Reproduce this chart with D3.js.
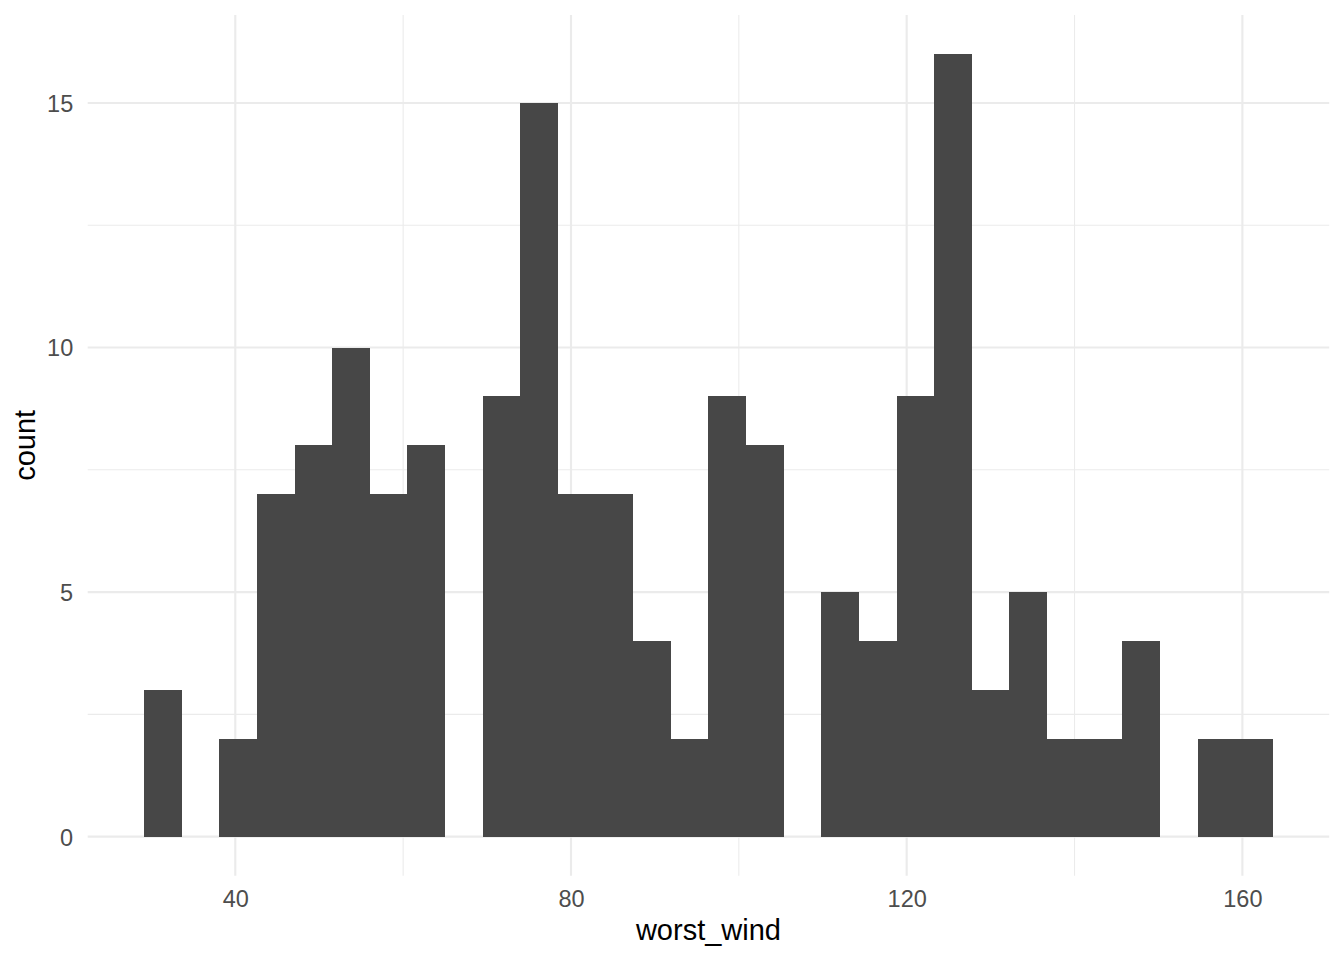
<!DOCTYPE html>
<html>
<head>
<meta charset="utf-8">
<script src="https://cdn.jsdelivr.net/npm/d3@7"></script>
<style>
  html, body { margin: 0; padding: 0; background: #ffffff; }
  svg { display: block; font-family: "Liberation Sans", Arial, Helvetica, sans-serif; }
</style>
</head>
<body>
<svg id="chart" width="1344" height="960"></svg>
<script>
// ---- data ----
const binStart = 29.138;          // left edge of first bin
const binWidth = 130 / 29;        // ggplot default: range / (bins - 1)
const counts = [3, 0, 2, 7, 8, 10, 7, 8, 0, 9, 15, 7, 7, 4, 2, 9, 8, 0, 5, 4, 9, 16, 3, 5, 2, 2, 4, 0, 2, 2];
const xTicks = [40, 80, 120, 160];
const xMinor = [60, 100, 140];
const yTicks = [0, 5, 10, 15];
const yMinor = [2.5, 7.5, 12.5];
const xTitle = "worst_wind";
const yTitle = "count";

// ---- layout ----
const W = 1344, H = 960;
const margin = { left: 87.7, right: 14.8, top: 14.9, bottom: 84.2 };
const svg = d3.select("#chart");

const bins = counts.map((c, i) => ({ x0: binStart + i * binWidth, x1: binStart + (i + 1) * binWidth, n: c }));
const xMin = bins[0].x0, xMax = bins[bins.length - 1].x1;
const xPad = (xMax - xMin) * 0.05;
const yMaxV = d3.max(counts), yPad = yMaxV * 0.05;

const x = d3.scaleLinear().domain([xMin - xPad, xMax + xPad]).range([margin.left, W - margin.right]);
const y = d3.scaleLinear().domain([-yPad, yMaxV + yPad]).range([H - margin.bottom, margin.top]);

const grid = svg.append("g");
// minor grid
grid.selectAll(".xm").data(xMinor).enter().append("line")
  .attr("x1", d => x(d)).attr("x2", d => x(d))
  .attr("y1", y.range()[1]).attr("y2", y.range()[0])
  .attr("stroke", "#EBEBEB").attr("stroke-width", 1.07);
grid.selectAll(".ym").data(yMinor).enter().append("line")
  .attr("y1", d => y(d)).attr("y2", d => y(d))
  .attr("x1", x.range()[0]).attr("x2", x.range()[1])
  .attr("stroke", "#EBEBEB").attr("stroke-width", 1.07);
// major grid
grid.selectAll(".xM").data(xTicks).enter().append("line")
  .attr("x1", d => x(d)).attr("x2", d => x(d))
  .attr("y1", y.range()[1]).attr("y2", y.range()[0])
  .attr("stroke", "#EBEBEB").attr("stroke-width", 2.13);
grid.selectAll(".yM").data(yTicks).enter().append("line")
  .attr("y1", d => y(d)).attr("y2", d => y(d))
  .attr("x1", x.range()[0]).attr("x2", x.range()[1])
  .attr("stroke", "#EBEBEB").attr("stroke-width", 2.13);

// bars
svg.append("g").attr("shape-rendering", "crispEdges")
  .selectAll("rect").data(bins.filter(b => b.n > 0)).enter().append("rect")
  .attr("x", d => x(d.x0))
  .attr("width", d => x(d.x1) - x(d.x0))
  .attr("y", d => y(d.n))
  .attr("height", d => y(0) - y(d.n))
  .attr("fill", "#474747");

// axes (labels only, ggplot theme_minimal has no axis lines/ticks)
const xAxis = d3.axisBottom(x).tickValues(xTicks).tickSize(0).tickPadding(0);
const gx = svg.append("g").attr("transform", `translate(0,${H - margin.bottom})`).call(xAxis);
gx.select(".domain").remove();
gx.selectAll("text").attr("fill", "#4D4D4D").attr("font-size", 23.5)
  .attr("font-family", "Liberation Sans, Arial, sans-serif")
  .attr("dy", null).attr("y", 31);

const yAxis = d3.axisLeft(y).tickValues(yTicks).tickSize(0).tickPadding(0);
const gy = svg.append("g").attr("transform", `translate(${margin.left},0)`).call(yAxis);
gy.select(".domain").remove();
gy.selectAll("text").attr("fill", "#4D4D4D").attr("font-size", 23.5)
  .attr("font-family", "Liberation Sans, Arial, sans-serif")
  .attr("x", -14.5).attr("dy", "0.36em");

// titles
svg.append("text")
  .attr("x", (x.range()[0] + x.range()[1]) / 2)
  .attr("y", 940)
  .attr("text-anchor", "middle")
  .attr("font-size", 29).attr("fill", "#000000")
  .text(xTitle);
svg.append("text")
  .attr("transform", `translate(35,${(y.range()[0] + y.range()[1]) / 2}) rotate(-90)`)
  .attr("text-anchor", "middle")
  .attr("font-size", 29).attr("fill", "#000000")
  .text(yTitle);
</script>
</body>
</html>
